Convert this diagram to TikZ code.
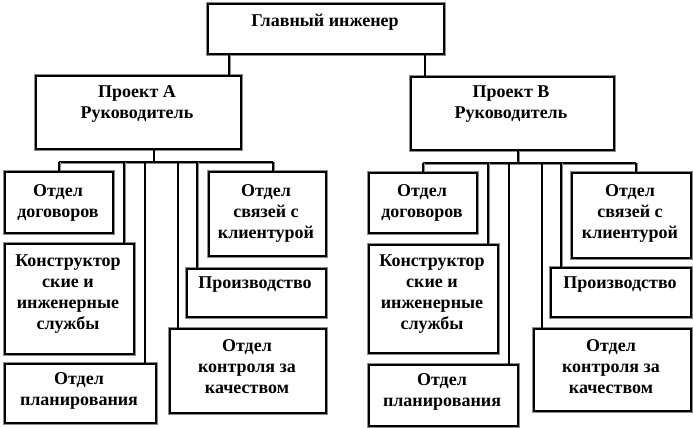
\documentclass[tikz,border=0pt]{standalone}
\usepackage{fontspec}
\setmainfont{Liberation Serif}
\begin{document}
\begin{tikzpicture}[x=1pt,y=-1pt,
  box/.style={draw=black,fill=white,line width=2pt,inner sep=0pt,anchor=north west,
    preaction={draw=black!45,line width=3.6pt}},
  lbl/.style={align=center,inner sep=0pt,font=\bfseries\fontsize{18}{21}\selectfont},
  dline/.style={draw=black!45,line width=3pt,postaction={draw=black,line width=1.2pt}},
  sline/.style={draw=black,line width=2.2pt}]
\useasboundingbox (0,0) rectangle (693,428);
% boxes
\node[box,minimum width=236pt,minimum height=50pt] (gl) at (207,3) {};
\node[box,minimum width=205pt,minimum height=73pt] (pa) at (35,75) {};
\node[box,minimum width=203pt,minimum height=73pt] (pb) at (410,76) {};
% left group
\node[box,minimum width=108pt,minimum height=61pt] (dogA) at (4,171) {};
\node[box,minimum width=117pt,minimum height=84pt] (svA) at (208,171) {};
\node[box,minimum width=129pt,minimum height=110pt] (konA) at (4,243) {};
\node[box,minimum width=139pt,minimum height=48pt] (prA) at (186,268) {};
\node[box,minimum width=151pt,minimum height=59pt] (plA) at (4,363) {};
\node[box,minimum width=156pt,minimum height=84pt] (kcA) at (169,328) {};
% right group
\node[box,minimum width=108pt,minimum height=60pt] (dogB) at (368,172) {};
\node[box,minimum width=119pt,minimum height=85pt] (svB) at (571,172) {};
\node[box,minimum width=129pt,minimum height=108pt] (konB) at (368,244) {};
\node[box,minimum width=140pt,minimum height=49pt] (prB) at (550,267) {};
\node[box,minimum width=149pt,minimum height=61pt] (plB) at (368,364) {};
\node[box,minimum width=157pt,minimum height=82pt] (kcB) at (533,328) {};
% texts
\node[lbl] (tgl) at (325,22) {Главный инженер};
\node[lbl] (tpa) at (137,104) {Проект А\\Руководитель};
\node[lbl] (tpb) at (511,104) {Проект В\\Руководитель};
\node[lbl] (tdogA) at (58,203) {Отдел\\договоров};
\node[lbl] (tsvA) at (266,213) {Отдел\\связей с\\клиентурой};
\node[lbl] (tkonA) at (68,294) {Конструктор\\ские и\\инженерные\\службы};
\node[lbl] (tprA) at (255,285) {Производство};
\node[lbl] (tplA) at (79,391) {Отдел\\планирования};
\node[lbl] (tkcA) at (247,367) {Отдел\\контроля за\\качеством};
\node[lbl] (tdogB) at (422,203) {Отдел\\договоров};
\node[lbl] (tsvB) at (630,213) {Отдел\\связей с\\клиентурой};
\node[lbl] (tkonB) at (432,294) {Конструктор\\ские и\\инженерные\\службы};
\node[lbl] (tprB) at (620,285) {Производство};
\node[lbl] (tplB) at (442,392) {Отдел\\планирования};
\node[lbl] (tkcB) at (611,367) {Отдел\\контроля за\\качеством};
% connection points
\coordinate (jA) at ([xshift=22pt]gl.south west);
\coordinate (jB) at ([xshift=-20pt]gl.south east);
\coordinate (sA) at ([xshift=119pt]pa.south west);
\coordinate (sB) at ([xshift=108pt]pb.south west);
\coordinate (busA) at ([yshift=-12pt]sA);
\coordinate (busB) at ([yshift=-12pt]sB);
\coordinate (cdA) at (dogA.north);
\coordinate (ckA) at ([xshift=-11pt]konA.north east);
\coordinate (cpA) at ([xshift=-12pt]plA.north east);
\coordinate (ccA) at ([xshift=9pt]kcA.north west);
\coordinate (crA) at ([xshift=11pt]prA.north west);
\coordinate (csA) at ([xshift=65pt]svA.north west);
\coordinate (cdB) at (dogB.north);
\coordinate (ckB) at ([xshift=-11pt]konB.north east);
\coordinate (cpB) at ([xshift=-10pt]plB.north east);
\coordinate (ccB) at ([xshift=9pt]kcB.north west);
\coordinate (crB) at ([xshift=11pt]prB.north west);
\coordinate (csB) at ([xshift=65pt]svB.north west);
% connectors
\draw[dline] (jA) -- (jA |- pa.north);
\draw[sline] (jB) -- (jB |- pb.north);
\draw[sline] (sA) -- (busA);
\draw[dline] (sB) -- (busB);
\draw[dline] (cdA |- busA) -- (csA |- busA);
\draw[dline] (cdB |- busB) -- (csB |- busB);
\draw[dline] (cdA |- busA) -- (cdA);
\draw[dline] (ckA |- busA) -- (ckA);
\draw[sline] (cpA |- busA) -- (cpA);
\draw[sline] (ccA |- busA) -- (ccA);
\draw[dline] (crA |- busA) -- (crA);
\draw[dline] (csA |- busA) -- (csA);
\draw[dline] (cdB |- busB) -- (cdB);
\draw[dline] (ckB |- busB) -- (ckB);
\draw[sline] (cpB |- busB) -- (cpB);
\draw[sline] (ccB |- busB) -- (ccB);
\draw[dline] (crB |- busB) -- (crB);
\draw[dline] (csB |- busB) -- (csB);
\end{tikzpicture}
\end{document}
